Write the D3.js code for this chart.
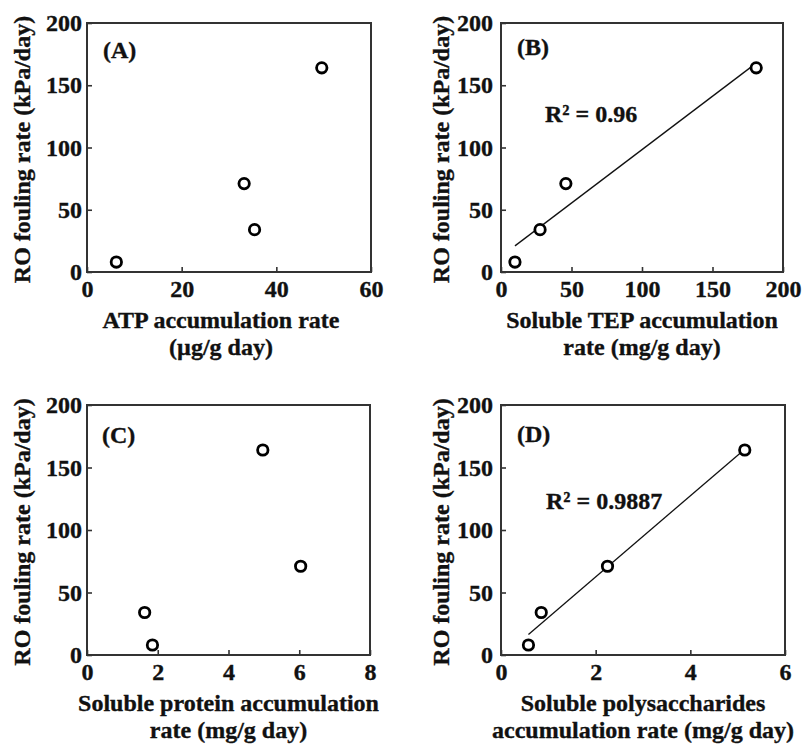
<!DOCTYPE html>
<html>
<head>
<meta charset="utf-8">
<script src="https://cdn.jsdelivr.net/npm/d3@7"></script>
<style>
  html, body { margin: 0; padding: 0; background: #fff; }
  svg { display: block; }
</style>
</head>
<body>
<svg id="chart" width="804" height="744"></svg>
<script>
// ---- data ----
const foulingRate = [8, 34, 71, 164];           // RO fouling rate (kPa/day), shared y values
const atpRate = [6.2, 35.4, 33.2, 49.6];         // (A)
const tepRate = [9.9, 27.7, 46, 181];            // (B)
const proteinRate = [1.85, 1.63, 6.04, 4.97];    // (C)
const polyRate = [0.58, 0.85, 2.25, 5.15];       // (D)

const panelLabels = ["(A)", "(B)", "(C)", "(D)"];
const xTitles = [
  ["ATP accumulation rate", "(\u00b5g/g day)"],
  ["Soluble TEP accumulation", "rate (mg/g day)"],
  ["Soluble protein accumulation", "rate (mg/g day)"],
  ["Soluble polysaccharides", "accumulation rate (mg/g day)"]
];
const yTitle = "RO fouling rate (kPa/day)";
const xTicks = [[0, 20, 40, 60], [0, 50, 100, 150, 200], [0, 2, 4, 6, 8], [0, 2, 4, 6]];
const xMax = [60, 200, 8, 6];
const yTicks = [0, 50, 100, 150, 200];
const r2Labels = [null, "R\u00b2 = 0.96", null, "R\u00b2 = 0.9887"];
const showFit = [false, true, false, true];

// ---- layout ----
const xSeries = [atpRate, tepRate, proteinRate, polyRate];
const boxes = [
  { x0: 87, x1: 371, y0: 23, y1: 272, ypad: 5, ytx: 22, labX: 103, labY: 50, r2: null },
  { x0: 501, x1: 783, y0: 23, y1: 272, ypad: 8, ytx: 441, labX: 517, labY: 47, r2: [545, 114] },
  { x0: 87, x1: 370, y0: 405, y1: 655, ypad: 5, ytx: 22, labX: 102, labY: 435, r2: null },
  { x0: 501, x1: 785, y0: 405, y1: 655, ypad: 8, ytx: 441, labX: 517, labY: 434, r2: [546, 501] }
];
const FONT = "'Liberation Serif', 'Times New Roman', serif";
const TXT = "#111";
const svg = d3.select("#chart");

function styleText(sel) {
  return sel.attr("font-family", FONT).attr("font-size", 24).attr("font-weight", "bold")
    .attr("fill", TXT).attr("stroke", TXT).attr("stroke-width", 0.35);
}

boxes.forEach((b, i) => {
  const xs = d3.scaleLinear().domain([0, xMax[i]]).range([b.x0, b.x1]);
  const ys = d3.scaleLinear().domain([0, 200]).range([b.y1, b.y0]);
  const g = svg.append("g");

  // axes with inward ticks
  const ax = g.append("g").attr("transform", `translate(0,${b.y1})`)
    .call(d3.axisBottom(xs).tickValues(xTicks[i]).tickFormat(d3.format("d"))
      .tickSizeInner(-5).tickSizeOuter(0).tickPadding(8));
  const ay = g.append("g").attr("transform", `translate(${b.x0},0)`)
    .call(d3.axisLeft(ys).tickValues(yTicks).tickFormat(d3.format("d"))
      .tickSizeInner(-5).tickSizeOuter(0).tickPadding(b.ypad));
  [ax, ay].forEach(a => {
    a.select(".domain").remove();
    a.attr("font-family", FONT).attr("font-size", 24).attr("font-weight", "bold");
    a.selectAll(".tick line").attr("stroke", "#333").attr("stroke-width", 1.6);
    a.selectAll(".tick text").attr("fill", TXT).attr("stroke", TXT).attr("stroke-width", 0.35);
  });

  // frame
  g.append("rect")
    .attr("x", b.x0).attr("y", b.y0)
    .attr("width", b.x1 - b.x0).attr("height", b.y1 - b.y0)
    .attr("fill", "none").attr("stroke", "#333").attr("stroke-width", 2);

  // fitted line
  const xv = xSeries[i];
  if (showFit[i]) {
    const mx = d3.mean(xv), my = d3.mean(foulingRate);
    const sxy = d3.sum(xv, (x, k) => (x - mx) * (foulingRate[k] - my));
    const sxx = d3.sum(xv, x => (x - mx) * (x - mx));
    const slope = sxy / sxx, icpt = my - slope * mx;
    const ext = d3.extent(xv);
    g.append("line")
      .attr("x1", xs(ext[0])).attr("y1", ys(slope * ext[0] + icpt))
      .attr("x2", xs(ext[1])).attr("y2", ys(slope * ext[1] + icpt))
      .attr("stroke", "#111").attr("stroke-width", 1.3);
  }

  // points
  g.selectAll("circle.pt").data(xv).enter().append("circle")
    .attr("class", "pt")
    .attr("cx", d => xs(d))
    .attr("cy", (d, k) => ys(foulingRate[k]))
    .attr("r", 5.2)
    .attr("fill", "#fff").attr("stroke", "#000").attr("stroke-width", 2.8);

  // panel label
  styleText(g.append("text").attr("x", b.labX).attr("y", b.labY).attr("dy", "0.35em"))
    .text(panelLabels[i]);

  // R2 label
  if (r2Labels[i]) {
    styleText(g.append("text").attr("x", b.r2[0]).attr("y", b.r2[1]).attr("dy", "0.35em"))
      .text(r2Labels[i]);
  }

  // x title
  const cx = (b.x0 + b.x1) / 2 + (i === 0 ? -8 : 0);
  xTitles[i].forEach((t, k) => {
    styleText(g.append("text").attr("x", cx).attr("y", b.y1 + 48 + k * 26.5).attr("dy", "0.35em")
      .attr("text-anchor", "middle")).text(t);
  });

  // y title
  const cy = (b.y0 + b.y1) / 2 + 2;
  styleText(g.append("text")
    .attr("transform", `translate(${b.ytx},${cy}) rotate(-90)`)
    .attr("dy", "0.35em").attr("text-anchor", "middle")).text(yTitle);
});
</script>
</body>
</html>
